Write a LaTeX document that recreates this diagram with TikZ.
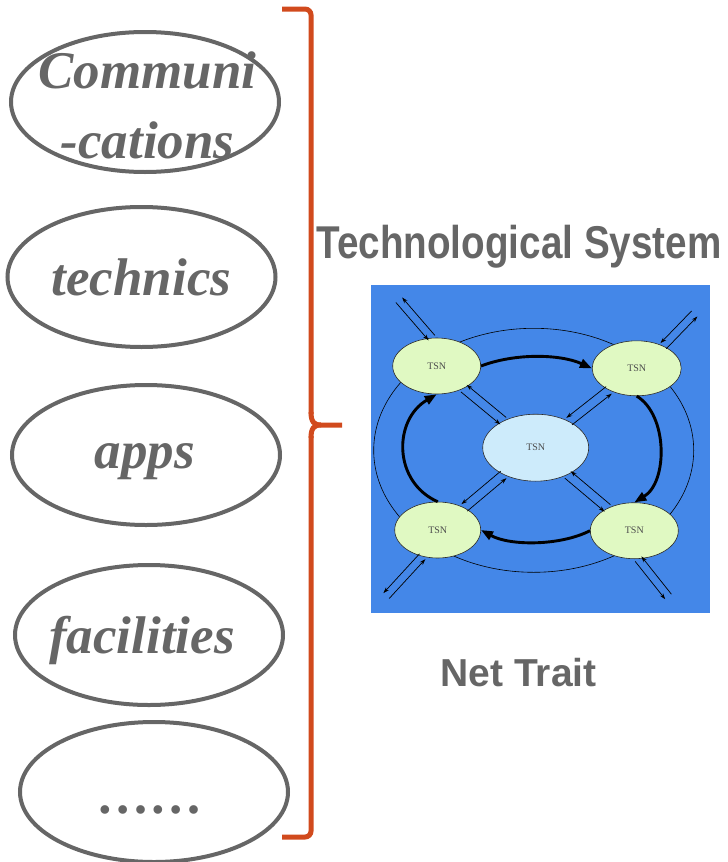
\documentclass[tikz,border=0pt]{standalone}
\usepackage{fontspec}
\usepackage{graphicx}
\setmainfont{Liberation Serif}
\newfontfamily\hsans{Liberation Sans}
\usetikzlibrary{shapes.geometric,arrows.meta}
\definecolor{txtgray}{HTML}{666666}
\definecolor{bracec}{HTML}{D14A1D}
\definecolor{netblue}{HTML}{4487E8}
\definecolor{tsnlime}{HTML}{E0F9C2}
\definecolor{tsnblue}{HTML}{CDEBFB}
\definecolor{edgec}{HTML}{2A2A2A}
\tikzset{
  leftell/.style={ellipse, draw=txtgray, line width=4pt, minimum width=268, minimum height=140, inner sep=0pt},
  lbl/.style={text=txtgray, font=\bfseries\itshape\fontsize{53}{56}\selectfont, anchor=base, inner sep=0pt},
  hdr/.style={text=txtgray, font=\hsans\bfseries, anchor=base, inner sep=0pt},
  tsn/.style={ellipse, draw=edgec, line width=0.6pt, inner sep=0pt, text=black!70, font=\fontsize{10}{12}\selectfont},
  bracepath/.style={draw=bracec, line width=5pt},
  thk/.style={draw=black, line width=2.9pt, -{Triangle[length=12pt,width=9pt]}},
  thn/.style={draw=black, line width=0.7pt, -{Stealth[length=6pt,width=4pt]}},
}
\begin{document}
\begin{tikzpicture}[x=1pt,y=-1pt]
\useasboundingbox (0,0) rectangle (728,862);
% left ellipses
\node[leftell] (e1) at (145,102) {};
\node[leftell] (e2) at (141.5,277) {};
\node[leftell] (e3) at (146,455) {};
\node[leftell] (e4) at (149,635) {};
\node[leftell] (e5) at (154,792) {};
\node[lbl] (t1a) at (147.5,88) {Communi};
\node[lbl] (t1b) at (147.5,158) {-cations};
\node[lbl] (t2) at (141.5,295) {technics};
\node[lbl] (t3) at (145,468) {apps};
\node[lbl] (t4) at (142,653) {facilities};
\node[lbl] (t5) at (151,813) {……};
% brace
\draw[bracepath, rounded corners=6] (282,9) -- (311,9) -- (311,414);
\draw[bracepath] (311,412) .. controls (311,422) and (314,425) .. (321,425) -- (342,425);
\draw[bracepath] (321,425) .. controls (314,425) and (311,428) .. (311,438);
\draw[bracepath, rounded corners=6] (311,436) -- (311,837) -- (282,837);
% headings
\node[hdr, font=\hsans\bfseries\fontsize{46}{50}\selectfont] (title) at (519,258) {\scalebox{0.84}[1]{Technological System}};
\node[hdr, font=\hsans\bfseries\fontsize{39}{44}\selectfont] (trait) at (518.5,686) {Net Trait};
% network
\fill[netblue] (371,285) rectangle (710,613);
\node[ellipse, draw=black, line width=0.6pt, minimum width=320, minimum height=244, inner sep=0pt] (ring) at (533.7,450.3) {};
\node[tsn, fill=tsnlime, minimum width=88, minimum height=56] (tl) at (436.7,366) {TSN};
\node[tsn, fill=tsnlime, minimum width=89, minimum height=55] (tr) at (636.7,368.3) {TSN};
\node[tsn, fill=tsnblue, minimum width=106, minimum height=67] (c) at (535.7,447.7) {TSN};
\node[tsn, fill=tsnlime, minimum width=86, minimum height=56] (bl) at (437.7,530) {TSN};
\node[tsn, fill=tsnlime, minimum width=88, minimum height=56] (br) at (634.3,530.7) {TSN};
% thick cycle
\draw[thk] (tl.east) .. controls (515,353) and (560,354) .. (tr.west);
\draw[thk] (tr.south) .. controls (668,415) and (668,482) .. (br.north);
\draw[thk] (br.west) .. controls (560,546) and (510,546) .. (bl.east);
\draw[thk] (bl.north) .. controls (393,482) and (393,420) .. (tl.south);
% inner double arrows
\draw[thn, transform canvas={shift={(2.9,-3.5)}}] (c) -- (tl);
\draw[thn, transform canvas={shift={(-2.9,3.5)}}] (tl) -- (c);
\draw[thn, transform canvas={shift={(2.8,3.5)}}] (c) -- (tr);
\draw[thn, transform canvas={shift={(-2.8,-3.5)}}] (tr) -- (c);
\draw[thn, transform canvas={shift={(2.9,3.5)}}] (bl) -- (c);
\draw[thn, transform canvas={shift={(-2.9,-3.5)}}] (c) -- (bl);
\draw[thn, transform canvas={shift={(2.9,-3.5)}}] (br) -- (c);
\draw[thn, transform canvas={shift={(-2.9,3.5)}}] (c) -- (br);
% outer double arrows
\coordinate (otl) at (399,300);
\coordinate (otr) at (694.5,313.7);
\coordinate (obl) at (386.3,595.8);
\coordinate (obr) at (668.3,596.7);
\draw[thn, transform canvas={shift={(3.1,-2.5)}}] (tl.100) -- (otl);
\draw[thn, transform canvas={shift={(-3.1,2.5)}}] (otl) -- (tl.100);
\draw[thn, transform canvas={shift={(2.9,2.8)}}] (tr.40) -- (otr);
\draw[thn, transform canvas={shift={(-2.9,-2.8)}}] (otr) -- (tr.40);
\draw[thn, transform canvas={shift={(2.9,2.7)}}] (obl) -- (bl.240);
\draw[thn, transform canvas={shift={(-2.9,-2.7)}}] (bl.240) -- (obl);
\draw[thn, transform canvas={shift={(3.1,-2.5)}}] (obr) -- (br.278);
\draw[thn, transform canvas={shift={(-3.1,2.5)}}] (br.278) -- (obr);
\end{tikzpicture}
\end{document}
